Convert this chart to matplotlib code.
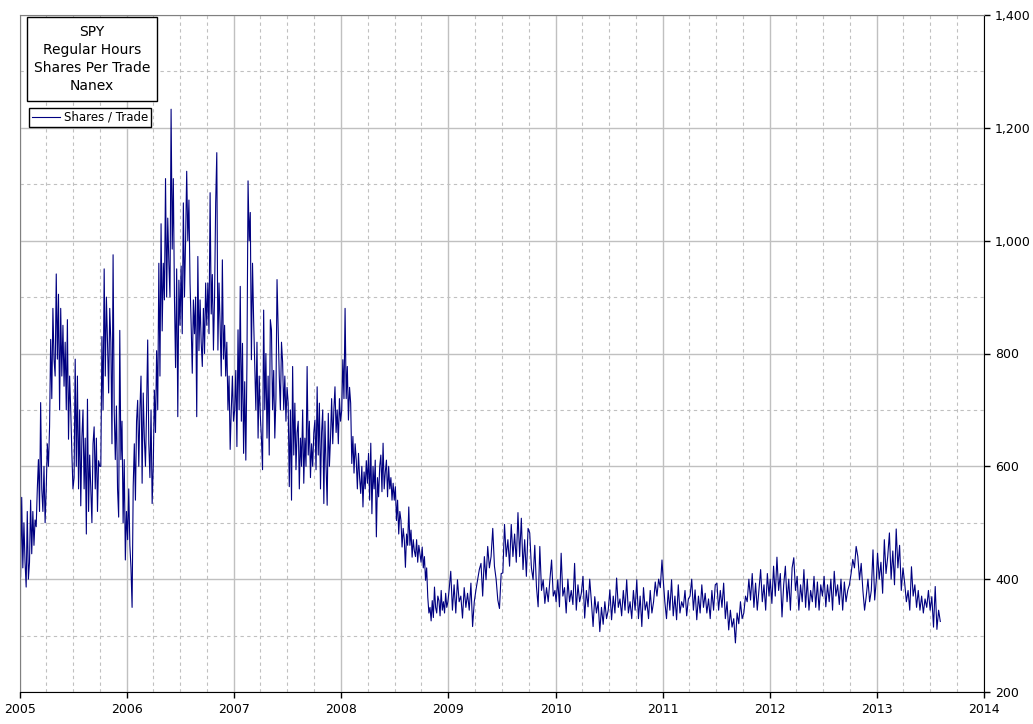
import numpy as np
import pandas as pd
import matplotlib
matplotlib.use("Agg")
import matplotlib.pyplot as plt
import matplotlib.dates as mdates
from matplotlib.patches import Rectangle
from matplotlib.ticker import MultipleLocator, FuncFormatter

plt.rcParams["font.family"] = ["DejaVu Sans"]

# SPY shares per trade (per year, one row per quarter)
spt_2005 = [404, 545, 420, 500, 430, 386, 520, 400, 430, 540, 445, 520, 460, 505, 493, 560, 612, 520, 713, 560, 520, 600, 500, 560,
            640, 600, 670, 825, 720, 880, 790, 760, 941, 790, 905, 700, 880, 760, 850, 742, 820, 700, 860, 648, 760, 700, 624, 560,
            580, 790, 600, 760, 560, 700, 530, 650, 700, 560, 650, 480, 719, 520, 620, 560, 500, 640, 670, 560, 650, 520, 610, 600,
            600, 830, 700, 950, 760, 900, 820, 730, 880, 820, 640, 975, 700, 612, 707, 560, 510, 841, 612, 680, 500, 612, 434, 520]
spt_2006 = [470, 560, 460, 420, 350, 565, 640, 540, 680, 717, 600, 700, 760, 570, 730, 650, 600, 700, 824, 640, 580, 700, 534, 600,
            735, 660, 805, 700, 960, 760, 1030, 840, 960, 895, 1110, 900, 1040, 960, 900, 1233, 985, 1110, 900, 775, 950, 688, 930, 850,
            955, 835, 1067, 900, 1000, 1123, 1000, 1072, 925, 850, 765, 895, 835, 900, 688, 972, 805, 895, 820, 777, 880, 800, 925, 850,
            925, 835, 1085, 870, 940, 806, 900, 1067, 1156, 806, 925, 850, 760, 966, 790, 850, 760, 820, 700, 760, 630, 700, 760, 680]
spt_2007 = [700, 770, 635, 842, 700, 919, 680, 818, 623, 750, 611, 780, 1106, 1000, 1050, 789, 960, 860, 780, 700, 820, 650, 760, 690,
            650, 594, 877, 700, 800, 650, 760, 620, 860, 842, 700, 770, 650, 720, 931, 842, 760, 700, 820, 785, 700, 760, 680, 740,
            712, 564, 700, 540, 777, 620, 712, 594, 660, 680, 560, 650, 600, 700, 570, 650, 600, 777, 620, 680, 580, 640, 600, 660,
            682, 594, 741, 620, 712, 560, 660, 700, 534, 680, 600, 531, 694, 600, 650, 720, 640, 700, 741, 660, 700, 640, 720, 680]
spt_2008 = [700, 789, 720, 880, 720, 777, 682, 740, 712, 605, 653, 588, 640, 611, 560, 623, 580, 552, 600, 528, 590, 560, 610, 570,
            623, 540, 641, 516, 600, 560, 611, 475, 580, 546, 600, 620, 555, 641, 560, 590, 611, 546, 600, 560, 580, 540, 570, 540,
            564, 504, 540, 480, 520, 504, 457, 490, 470, 421, 480, 460, 528, 460, 487, 439, 470, 450, 440, 470, 430, 460, 445, 430,
            457, 420, 440, 398, 420, 368, 340, 350, 326, 362, 332, 386, 350, 340, 370, 362, 335, 380, 345, 360, 340, 375, 350, 360]
spt_2009 = [380, 414, 345, 390, 340, 399, 360, 370, 331, 385, 350, 375, 345, 393, 316, 360,
            381, 399, 417, 428, 370, 440, 399, 458, 420, 440, 490, 423, 400, 363, 348, 410,
            411, 497, 440, 470, 423, 497, 440, 480, 430, 518, 440, 508, 417, 470, 405, 490,
            482, 420, 399, 460, 387, 351, 458, 380, 399, 357, 385, 360, 399, 434, 370, 380]
spt_2010 = [360, 399, 351, 446, 370, 385, 340, 400, 360, 380, 355, 428, 345, 390, 360, 375,
            405, 331, 380, 351, 400, 360, 316, 369, 340, 360, 307, 350, 320, 360, 330, 345,
            381, 328, 370, 340, 402, 350, 365, 335, 380, 345, 399, 340, 360, 330, 380, 345,
            399, 330, 370, 316, 385, 345, 360, 330, 380, 340, 360, 395, 370, 400, 385, 434]
spt_2011 = [400, 360, 330, 380, 345, 399, 335, 370, 328, 390, 340, 360, 350, 380, 335, 365,
            370, 400, 345, 381, 328, 370, 340, 390, 350, 375, 340, 365, 330, 380, 345, 390,
            393, 345, 380, 350, 393, 330, 360, 310, 345, 315, 330, 287, 340, 321, 360, 330,
            340, 370, 360, 400, 363, 410, 350, 393, 345, 380, 417, 360, 390, 345, 410, 370]
spt_2012 = [400, 357, 423, 370, 439, 380, 410, 333, 390, 423, 360, 400, 345, 420, 438, 380,
            405, 345, 390, 360, 417, 350, 400, 345, 380, 360, 405, 350, 395, 345, 390, 370,
            405, 351, 390, 360, 400, 345, 414, 370, 390, 355, 400, 345, 395, 360, 380, 390,
            410, 435, 420, 458, 440, 399, 428, 380, 345, 370, 400, 360, 380, 452, 363, 400]
spt_2013 = [446, 400, 430, 375, 470, 410, 440, 482, 400, 450, 390, 489, 420, 460, 380, 420,
            393, 360, 380, 345, 422, 370, 390, 350, 380, 345, 370, 340, 365, 350, 380, 345,
            369, 315, 387, 311, 345, 325]

years = [2005, 2006, 2007, 2008, 2009, 2010, 2011, 2012, 2013]
year_data = [spt_2005, spt_2006, spt_2007, spt_2008, spt_2009,
             spt_2010, spt_2011, spt_2012, spt_2013]
last_day = "2013-08-05"

y_ticks = [200, 400, 600, 800, 1000, 1200, 1400]
title_lines = ["SPY", "Regular Hours", "Shares Per Trade", "Nanex"]


def main():
    dates = []
    values = []
    for yr, vals in zip(years, year_data):
        end = last_day if yr == 2013 else f"{yr}-12-30"
        dates.extend(pd.date_range(f"{yr}-01-03", end, periods=len(vals)))
        values.extend(vals)

    W, H = 1033, 724
    fig = plt.figure(figsize=(W / 100, H / 100), dpi=100)
    ax = fig.add_axes([20 / W, (H - 692) / H, (984 - 20) / W, (692 - 15) / H])

    ax.plot(dates, values, color="#000080", linewidth=0.8, label="Shares / Trade")

    ax.set_xlim(pd.Timestamp("2005-01-01"), pd.Timestamp("2014-01-01"))
    ax.set_ylim(200, 1400)

    ax.xaxis.set_major_locator(mdates.YearLocator())
    ax.xaxis.set_major_formatter(mdates.DateFormatter("%Y"))
    ax.xaxis.set_minor_locator(mdates.MonthLocator(bymonth=[4, 7, 10]))
    ax.yaxis.set_major_locator(MultipleLocator(200))
    ax.yaxis.set_minor_locator(MultipleLocator(100))
    ax.yaxis.set_major_formatter(FuncFormatter(lambda v, p: f"{int(v):,}"))
    ax.set_yticks(y_ticks)

    ax.yaxis.tick_right()
    ax.tick_params(axis="both", which="major", direction="out", length=4,
                   width=1, color="black", labelsize=9, pad=4)
    ax.tick_params(axis="both", which="minor", length=0)
    ax.tick_params(axis="y", which="major", left=False, right=True)

    ax.grid(which="major", color="#c0c0c0", linestyle="-", linewidth=1)
    ax.grid(which="minor", color="#c0c0c0", linestyle=(0, (3, 3)), linewidth=0.8)
    ax.set_axisbelow(True)

    ax.spines["left"].set_color("#808080")
    ax.spines["top"].set_color("#808080")
    ax.spines["right"].set_color("black")
    ax.spines["bottom"].set_color("black")

    # title box
    fig.patches.append(Rectangle((27 / W, 1 - 101 / H), 130 / W, 84 / H,
                                 transform=fig.transFigure, facecolor="white",
                                 edgecolor="black", linewidth=1, zorder=5))
    fig.text(92 / W, 1 - 59 / H, "\n".join(title_lines), ha="center", va="center",
             fontsize=10, linespacing=1.35, zorder=6)

    leg = ax.legend(loc="upper left", bbox_to_anchor=(29 / W, 1 - 108 / H),
                    bbox_transform=fig.transFigure, borderaxespad=0,
                    fancybox=False, edgecolor="black", framealpha=1,
                    fontsize=8.5, handlelength=2.4, handletextpad=0.3,
                    borderpad=0.25)
    leg.get_frame().set_linewidth(1)

    fig.savefig("out.png", dpi=100)


if __name__ == "__main__":
    main()
